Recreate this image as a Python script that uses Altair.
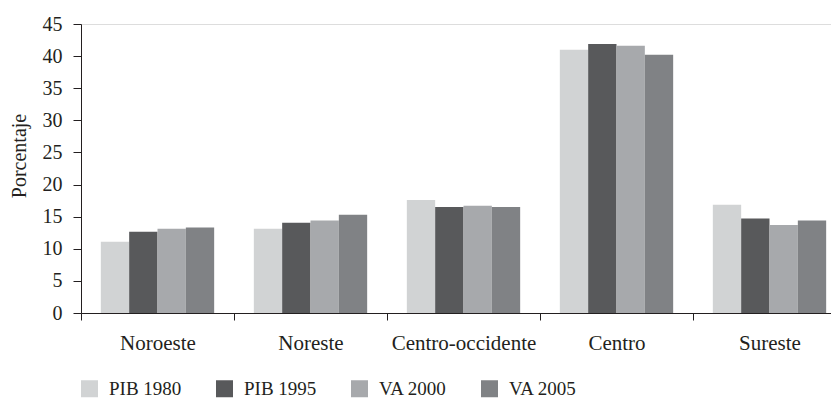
import altair as alt
import pandas as pd

regions = ["Noroeste", "Noreste", "Centro-occidente", "Centro", "Sureste"]
series = ["PIB 1980", "PIB 1995", "VA 2000", "VA 2005"]
pib_1980 = [11.1, 13.1, 17.6, 41.0, 16.85]
pib_1995 = [12.65, 14.05, 16.5, 41.9, 14.7]
va_2000 = [13.1, 14.4, 16.7, 41.6, 13.7]
va_2005 = [13.3, 15.3, 16.5, 40.2, 14.4]
colors = ["#d1d3d4", "#58595b", "#a7a9ac", "#808285"]
y_ticks = [0, 5, 10, 15, 20, 25, 30, 35, 40, 45]

rows = []
for name, vals in zip(series, [pib_1980, pib_1995, va_2000, va_2005]):
    for r, v in zip(regions, vals):
        rows.append({"Region": r, "Serie": name, "Valor": v})
df = pd.DataFrame(rows)

FONT = "Liberation Serif"
INK = "#231f20"

chart = alt.Chart(df).mark_bar().encode(
    x=alt.X(
        "Region:N",
        sort=regions,
        scale=alt.Scale(paddingInner=0, paddingOuter=0),
        axis=alt.Axis(
            title=None,
            labelAngle=0,
            tickBand="extent",
            tickSize=7,
            tickColor=INK,
            domainColor=INK,
            labelFont=FONT,
            labelFontSize=21,
            labelColor=INK,
            labelPadding=12,
        ),
    ),
    xOffset=alt.XOffset(
        "Serie:N", sort=series, scale=alt.Scale(paddingInner=0, paddingOuter=0.7)
    ),
    y=alt.Y(
        "Valor:Q",
        scale=alt.Scale(domain=[0, 45]),
        axis=alt.Axis(
            title="Porcentaje",
            values=y_ticks,
            grid=False,
            tickSize=8,
            tickColor=INK,
            domainColor=INK,
            labelFont=FONT,
            labelFontSize=20,
            labelColor=INK,
            labelPadding=11,
            titleFont=FONT,
            titleFontSize=20,
            titleFontWeight="normal",
            titleColor=INK,
            titleX=-62,
            titleY=131.5,
            titleBaseline="middle",
            titleAlign="center",
        ),
    ),
    color=alt.Color(
        "Serie:N",
        sort=series,
        scale=alt.Scale(domain=series, range=colors),
        legend=alt.Legend(
            title=None,
            orient="none",
            legendX=-1,
            legendY=355,
            direction="horizontal",
            symbolType="square",
            symbolSize=289,
            symbolStrokeWidth=0,
            symbolOpacity=1,
            labelFont=FONT,
            labelFontSize=19,
            labelColor=INK,
            labelOffset=10,
            columnPadding=33,
        ),
    ),
).properties(
    width=765,
    height=289,
    padding={"left": 73, "top": 16, "right": -15, "bottom": 86},
    autosize=alt.AutoSizeParams(type="none"),
).configure_view(stroke=None).configure(background="white")

chart.save("out.html", embed_options={"renderer": "svg", "actions": False})
